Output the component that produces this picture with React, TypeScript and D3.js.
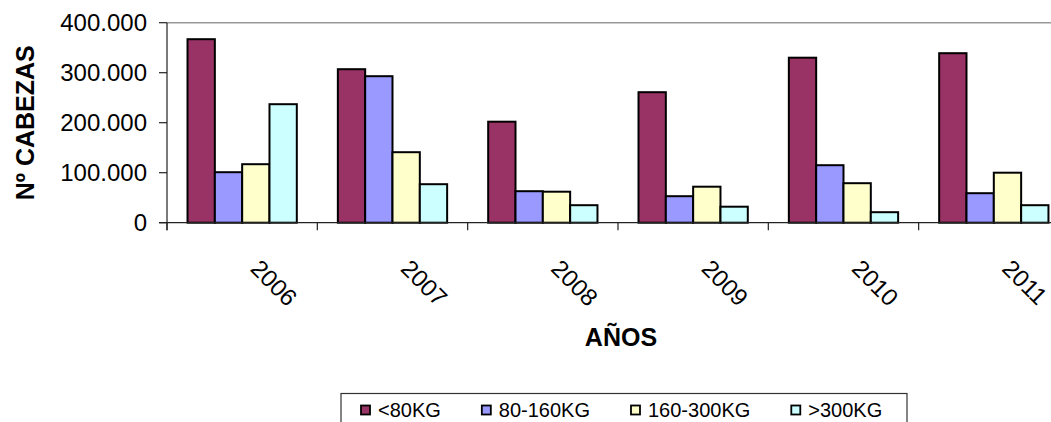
import React from 'react';
import * as d3 from 'd3';

const years = ['2006', '2007', '2008', '2009', '2010', '2011'];
const seriesNames = ['<80KG', '80-160KG', '160-300KG', '>300KG'];
const seriesColors = ['#993366', '#9999FF', '#FFFFCC', '#CCFFFF'];
const under80 = [367000, 307000, 202000, 261000, 330000, 339000];
const from80to160 = [101000, 293000, 63000, 53000, 115000, 59000];
const from160to300 = [117000, 141000, 62000, 72000, 79000, 100000];
const over300 = [237000, 77000, 35000, 32000, 21000, 35000];
const yTicks = [0, 100000, 200000, 300000, 400000];

const seriesValues = [under80, from80to160, from160to300, over300];

const W = 1051;
const H = 422;
const FONT = "'Liberation Sans', Arial, Helvetica, sans-serif";

function fmt(v: number): string {
  if (v === 0) return '0';
  const s = String(v);
  return s.replace(/\B(?=(\d{3})+(?!\d))/g, '.');
}

function measure(text: string, font: string): number {
  if (typeof document === 'undefined') return text.length * 10;
  const c = document.createElement('canvas');
  const ctx = c.getContext('2d');
  if (!ctx) return text.length * 10;
  ctx.font = font;
  return ctx.measureText(text).width;
}

export default function App() {
  const left = 167;
  const top = 22.7;
  const bottom = 222.7;
  const step = 150.33;
  const right = left + step * years.length;

  const x = d3.scaleBand<string>().domain(years).range([left, right]).paddingInner(0.273).paddingOuter(0.1365);
  const xs = d3.scaleBand<string>().domain(seriesNames).range([0, x.bandwidth()]).padding(0);
  const y = d3.scaleLinear().domain([0, 400000]).range([bottom, top]);

  const legendX = 341;
  const legendY = 393.5;
  const legendFont = `20px ${FONT}`;
  const items: { x: number; name: string; color: string }[] = [];
  let cx = legendX + 20;
  seriesNames.forEach((n, i) => {
    items.push({ x: cx, name: n, color: seriesColors[i] });
    cx += 18 + measure(n, legendFont) + 40;
  });

  const boundaries = d3.range(years.length + 1).map((i) => left + i * step);

  return (
    <div style={{ position: 'absolute', left: 0, top: 0 }}>
      <svg width={W} height={H} style={{ display: 'block', background: '#fff' }} fontFamily={FONT}>
        {/* top border line */}
        <line x1={left} x2={W + 20} y1={y(400000)} y2={y(400000)} stroke="#999" strokeWidth={1.6} />
        {/* bars */}
        {years.map((yr, i) => (
          <g key={yr} transform={`translate(${x(yr)},0)`}>
            {seriesNames.map((s, j) => {
              const v = seriesValues[j][i];
              return (
                <rect
                  key={s}
                  x={xs(s)}
                  y={y(v)}
                  width={xs.bandwidth()}
                  height={bottom - y(v)}
                  fill={seriesColors[j]}
                  stroke="#000"
                  strokeWidth={2}
                />
              );
            })}
          </g>
        ))}
        {/* y axis */}
        <line x1={left} x2={left} y1={top} y2={bottom + 7.5} stroke="#222" strokeWidth={1.2} />
        {yTicks.map((t) => (
          <g key={t}>
            <line x1={left - 8} x2={left} y1={y(t)} y2={y(t)} stroke="#222" strokeWidth={1.2} />
            <text x={147} y={y(t)} dy="0.36em" textAnchor="end" fontSize={24} fill="#000">
              {fmt(t)}
            </text>
          </g>
        ))}
        {/* x axis */}
        <line x1={left - 8} x2={W + 20} y1={bottom} y2={bottom} stroke="#222" strokeWidth={1.2} />
        {boundaries.map((b, i) => (
          <line key={i} x1={b} x2={b} y1={bottom} y2={bottom + 7.5} stroke="#222" strokeWidth={1.2} />
        ))}
        {years.map((yr) => {
          const c = (x(yr) as number) + x.bandwidth() / 2;
          return (
            <text
              key={yr}
              transform={`translate(${c + 7},${270}) rotate(45)`}
              textAnchor="start"
              fontSize={24}
              fill="#000"
            >
              {yr}
            </text>
          );
        })}
        {/* axis titles */}
        <text
          transform={`translate(34,${(top + bottom) / 2}) rotate(-90)`}
          textAnchor="middle"
          fontSize={25}
          fontWeight="bold"
          fill="#000"
        >
          Nº CABEZAS
        </text>
        <text x={(left + right) / 2 + 3} y={346} textAnchor="middle" fontSize={25} fontWeight="bold" fill="#000">
          AÑOS
        </text>
        {/* legend */}
        <rect x={legendX} y={legendY} width={566} height={40} fill="#fff" stroke="#333" strokeWidth={1.2} />
        {items.map((it) => (
          <g key={it.name}>
            <rect x={it.x} y={405.5} width={9} height={9} fill={it.color} stroke="#000" strokeWidth={1.8} />
            <text x={it.x + 17} y={417} fontSize={20} fill="#000">
              {it.name}
            </text>
          </g>
        ))}
      </svg>
    </div>
  );
}
